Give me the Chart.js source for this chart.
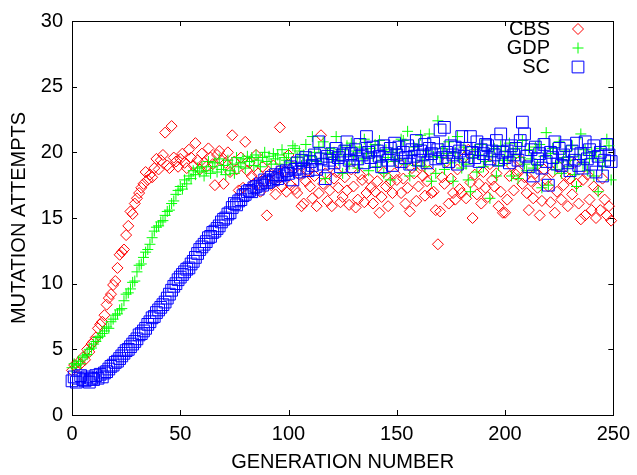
<!DOCTYPE html>
<html>
<head>
<meta charset="utf-8">
<script src="https://cdn.jsdelivr.net/npm/chart.js@4.4.1/dist/chart.umd.min.js"></script>
<style>
  html, body { margin: 0; padding: 0; background: #fff; }
  canvas { display: block; }
</style>
</head>
<body>
<canvas id="chart" width="637" height="475"></canvas>
<script>
// values, one per generation (0..249)
const CBS = [
  3.4, 3.8, 3.6, 4.0, 3.9, 4.4, 4.2, 5.0, 4.8, 5.4,
  5.6, 5.9, 6.6, 6.9, 7.1, 7.6, 8.4, 8.9, 9.2, 9.9,
  10.2, 11.2, 12.2, 12.4, 12.6, 13.7, 14.4, 15.5, 15.3, 16.1,
  16.5, 16.9, 17.3, 17.6, 18.5, 17.9, 18.3, 18.1, 18.8, 19.5,
  18.7, 19.4, 19.8, 21.5, 19.0, 18.8, 22.0, 19.6, 19.3, 18.9,
  19.5, 19.9, 19.2, 18.8, 20.2, 19.6, 19.0, 20.7, 19.4, 18.7,
  19.9, 19.2, 18.9, 20.3, 19.6, 19.1, 17.5, 19.8, 20.1, 19.4,
  17.6, 19.2, 20.0, 18.5, 21.3, 19.3, 18.7, 17.1, 19.6, 17.3,
  20.8, 18.6, 19.2, 18.2, 17.6, 19.8, 18.4, 17.0, 18.9, 17.8,
  15.2, 18.3, 17.5, 19.0, 16.8, 18.1, 21.9, 17.4, 18.6, 17.0,
  19.8, 17.5, 18.9, 17.2, 16.9, 18.3, 15.9, 16.1, 17.8, 18.6,
  17.4, 16.5, 18.2, 15.9, 16.9, 21.3, 17.6, 18.4, 16.3, 17.1,
  15.9, 18.0, 18.5, 17.3, 16.2, 16.6, 18.1, 17.1, 16.0, 18.7,
  17.4, 15.8, 16.4, 18.3, 17.9, 16.2, 16.9, 18.0, 17.3, 16.1,
  17.0, 17.8, 15.4, 16.6, 18.5, 17.4, 15.9, 17.7, 16.9, 18.4,
  17.9, 19.2, 16.9, 18.0, 16.1, 17.3, 15.5, 18.8, 18.4, 16.3,
  17.4, 19.0, 18.2, 16.7, 17.8, 18.6, 16.9, 17.0, 15.6, 13.0,
  15.5, 18.1, 17.6, 19.3, 16.1, 18.0, 16.9, 16.4, 18.7, 17.2,
  16.9, 19.6, 16.5, 20.2, 17.7, 15.0, 18.3, 16.8, 17.6, 16.1,
  18.5, 17.3, 16.6, 19.1, 17.9, 17.4, 18.4, 15.9, 17.0, 15.4,
  15.4, 16.4, 18.2, 19.0, 17.1, 18.3, 18.6, 19.4, 17.6, 18.1,
  16.9, 15.6, 17.8, 16.5, 18.4, 17.3, 15.2, 16.3, 18.7, 17.9,
  17.4, 16.2, 18.5, 15.4, 17.0, 18.9, 16.4, 17.5, 18.2, 15.9,
  18.0, 16.8, 19.2, 17.6, 16.1, 14.9, 17.9, 15.2, 18.3, 16.4,
  15.6, 17.4, 15.0, 17.1, 15.6, 18.0, 16.4, 15.2, 15.9, 14.8
];
const GDP = [
  3.6, 3.9, 3.8, 4.1, 3.9, 4.4, 4.5, 4.6, 5.0, 5.1,
  5.4, 5.6, 5.9, 6.0, 6.2, 6.4, 6.7, 6.6, 7.1, 7.3,
  7.6, 7.7, 8.0, 8.1, 8.7, 9.2, 9.3, 9.6, 10.1, 10.2,
  10.9, 11.4, 11.5, 12.0, 12.4, 12.6, 13.0, 13.5, 14.0, 14.3,
  14.4, 14.7, 14.8, 15.2, 15.5, 15.6, 16.1, 16.3, 16.8, 17.1,
  17.4, 17.2, 17.9, 17.6, 18.2, 18.0, 18.6, 18.3, 18.8, 18.5,
  18.9, 18.2, 18.6, 19.3, 18.4, 18.9, 19.2, 18.5, 19.5, 18.7,
  19.0, 18.3, 19.4, 18.6, 19.1, 18.4, 19.6, 18.9, 19.2, 19.5,
  18.8, 19.7, 19.3, 19.6, 19.0, 19.8, 19.4, 18.9, 19.6, 20.0,
  19.3, 19.7, 19.1, 19.9, 19.5, 19.8, 19.1, 20.2, 19.6, 19.4,
  19.9, 19.2, 20.5, 20.3, 19.6, 20.1, 19.0, 19.8, 20.6, 19.4,
  19.7, 21.2, 20.0, 19.3, 20.4, 19.5, 20.8, 18.0, 19.9, 20.3,
  19.6, 20.0, 21.2, 19.4, 20.2, 18.4, 19.8, 20.5, 19.1, 20.7,
  19.7, 20.1, 18.8, 20.4, 19.5, 21.0, 19.9, 18.6, 20.3, 19.7,
  20.6, 18.9, 20.9, 19.4, 18.4, 20.2, 19.6, 17.9, 20.0, 19.3,
  20.2, 19.5, 21.0, 20.9, 19.1, 21.6, 18.2, 19.8, 20.4, 19.0,
  20.6, 21.3, 19.4, 18.9, 20.1, 21.4, 17.8, 19.7, 18.4, 22.4,
  19.6, 20.3, 18.7, 19.9, 20.8, 19.2, 17.8, 20.0, 21.2, 19.5,
  18.8, 20.4, 19.1, 17.9, 17.0, 19.6, 20.2, 18.5, 19.8, 20.6,
  18.9, 19.3, 20.1, 16.5, 19.7, 20.3, 18.2, 19.0, 20.5, 19.4,
  20.1, 19.4, 20.7, 18.2, 19.8, 20.3, 18.0, 19.6, 20.9, 19.1,
  18.6, 20.2, 19.5, 18.8, 20.4, 19.0, 20.6, 17.3, 19.7, 21.5,
  17.5, 19.9, 20.3, 18.7, 19.2, 20.8, 18.4, 19.6, 20.1, 18.9,
  19.4, 20.5, 18.3, 17.4, 19.8, 21.4, 19.1, 20.2, 18.6, 19.5,
  20.0, 18.2, 19.7, 17.0, 20.3, 18.9, 19.4, 21.0, 20.5, 17.9
];
const SC = [
  2.6, 2.9, 2.5, 2.8, 3.0, 2.7, 2.6, 2.9, 2.5, 2.8,
  2.7, 3.0, 2.8, 3.1, 2.9, 3.2, 3.3, 3.5, 3.7, 3.8,
  4.0, 4.1, 4.3, 4.5, 4.7, 4.9, 5.0, 5.2, 5.4, 5.6,
  5.8, 6.1, 6.2, 6.4, 6.6, 6.9, 7.1, 7.4, 7.5, 7.8,
  8.0, 8.2, 8.4, 8.6, 8.9, 9.2, 9.5, 9.8, 10.0, 10.3,
  10.5, 10.7, 10.9, 11.1, 11.2, 11.5, 11.7, 12.0, 12.3, 12.6,
  12.8, 13.0, 13.2, 13.5, 13.6, 13.9, 14.0, 14.2, 14.4, 14.7,
  14.9, 15.0, 15.3, 15.4, 15.8, 16.1, 16.0, 16.3, 16.4, 16.7,
  16.8, 17.0, 17.1, 17.0, 17.3, 17.4, 17.2, 17.6, 17.5, 17.9,
  17.7, 17.8, 18.1, 17.9, 18.3, 18.0, 18.2, 18.5, 18.3, 18.6,
  18.4, 18.9, 17.9, 18.7, 19.2, 18.5, 19.4, 18.8, 19.6, 18.6,
  19.3, 19.0, 19.8, 18.7, 20.8, 19.5, 19.1, 18.0, 19.7, 19.4,
  19.9, 19.2, 20.3, 19.6, 18.9, 19.8, 20.1, 20.8, 19.4, 19.9,
  18.9, 20.2, 19.5, 20.6, 19.8, 19.2, 21.2, 20.0, 19.6, 20.4,
  19.3, 20.1, 19.7, 18.9, 20.5, 19.9, 19.4, 20.3, 19.0, 20.7,
  19.8, 20.4, 19.3, 20.0, 19.6, 20.5, 19.1, 20.2, 19.7, 20.9,
  19.4, 20.1, 19.8, 20.6, 19.2, 20.3, 19.9, 20.7, 19.5, 20.2,
  21.7, 19.6, 21.9, 20.0, 19.3, 20.5, 19.8, 20.4, 19.1, 20.1,
  21.2, 19.7, 20.3, 19.4, 21.2, 20.0, 19.6, 20.8, 19.3, 20.2,
  19.9, 20.6, 20.5, 19.5, 20.1, 19.8, 20.9, 19.4, 21.4, 20.0,
  19.6, 20.1, 19.2, 20.5, 19.8, 20.3, 19.4, 20.9, 22.3, 21.4,
  19.7, 18.9, 20.2, 18.2, 20.4, 19.5, 19.9, 18.8, 20.6, 19.3,
  17.5, 20.0, 19.6, 20.8, 19.1, 20.3, 19.0, 19.8, 20.5, 19.2,
  18.6, 20.1, 19.4, 20.7, 19.0, 19.9, 18.8, 20.8, 19.5, 20.2,
  19.1, 20.5, 18.5, 19.7, 20.0, 18.2, 19.4, 20.6, 19.8, 19.3
];
const GENERATIONS = CBS.map((_, i) => i);
const X_TICKS = [0, 50, 100, 150, 200, 250];
const Y_TICKS = [0, 5, 10, 15, 20, 25, 30];

const FONT = "'Liberation Sans', Arial, sans-serif";
const toPoints = (vals) => vals.map((v, i) => ({ x: GENERATIONS[i], y: v }));

const SERIES = [
  { label: "CBS", data: CBS, color: "#ff0000", style: "rectRot", radius: 5.5, order: 2 },
  { label: "GDP", data: GDP, color: "#00ff00", style: "cross", radius: 5.5, order: 1 },
  { label: "SC", data: SC, color: "#0000ff", style: "rect", radius: 8.3, order: 0 },
];

// gnuplot-like box with inward ticks on all four sides
const framePlugin = {
  id: "frame",
  beforeDatasetsDraw(chart) {
    const { ctx, chartArea: a, scales } = chart;
    ctx.save();
    ctx.strokeStyle = "#000";
    ctx.lineWidth = 1;
    ctx.beginPath();
    const T = 5;
    X_TICKS.forEach((t) => {
      const x = Math.round(scales.x.getPixelForValue(t)) + 0.5;
      ctx.moveTo(x, a.bottom); ctx.lineTo(x, a.bottom - T);
      ctx.moveTo(x, a.top); ctx.lineTo(x, a.top + T);
    });
    Y_TICKS.forEach((t) => {
      const y = Math.round(scales.y.getPixelForValue(t)) + 0.5;
      ctx.moveTo(a.left, y); ctx.lineTo(a.left + T, y);
      ctx.moveTo(a.right, y); ctx.lineTo(a.right - T, y);
    });
    ctx.stroke();
    ctx.strokeRect(Math.round(a.left) + 0.5, Math.round(a.top) + 0.5,
      Math.round(a.right - a.left), Math.round(a.bottom - a.top));
    ctx.restore();
  },
};

// key in the top right corner: text first, then the marker
const keyPlugin = {
  id: "key",
  afterDraw(chart) {
    const { ctx } = chart;
    ctx.save();
    ctx.font = "20px " + FONT;
    ctx.textAlign = "right";
    ctx.textBaseline = "middle";
    SERIES.forEach((s, i) => {
      const y = 29 + i * 19;
      ctx.fillStyle = "#000";
      ctx.fillText(s.label, 550, y);
      ctx.strokeStyle = s.color;
      ctx.fillStyle = "rgba(0,0,0,0)";
      ctx.lineWidth = 1;
      Chart.helpers.drawPoint(ctx, { pointStyle: s.style, radius: s.radius, rotation: 0, borderWidth: 1 }, 578, y);
    });
    ctx.restore();
  },
};

new Chart(document.getElementById("chart"), {
  type: "scatter",
  data: {
    datasets: SERIES.map((s) => ({
      label: s.label,
      data: toPoints(s.data),
      order: s.order,
      pointStyle: s.style,
      pointRadius: s.radius,
      borderColor: s.color,
      backgroundColor: "rgba(0,0,0,0)",
      borderWidth: 1,
      clip: false,
    })),
  },
  options: {
    responsive: false,
    animation: false,
    layout: { padding: { top: 15, right: 23, left: 0, bottom: 0 } },
    plugins: { legend: { display: false }, tooltip: { enabled: false } },
    scales: {
      x: {
        type: "linear",
        min: 0,
        max: 250,
        afterBuildTicks: (s) => { s.ticks = X_TICKS.map((v) => ({ value: v })); },
        afterFit: (s) => { s.height = 60; },
        grid: { display: false, drawTicks: false },
        border: { display: false },
        ticks: { color: "#000", font: { size: 20, family: FONT }, padding: 7, maxRotation: 0 },
        title: { display: true, text: "GENERATION NUMBER", color: "#000", font: { size: 20, family: FONT }, padding: { top: 0, bottom: 1 } },
      },
      y: {
        min: 0,
        max: 30,
        afterBuildTicks: (s) => { s.ticks = Y_TICKS.map((v) => ({ value: v })); },
        afterFit: (s) => { s.width = 72; },
        grid: { display: false, drawTicks: false },
        border: { display: false },
        ticks: { color: "#000", font: { size: 20, family: FONT }, padding: 9 },
        title: { display: true, text: "MUTATION ATTEMPTS", color: "#000", font: { size: 20, family: FONT }, padding: { top: 7, bottom: 0 } },
      },
    },
  },
  plugins: [framePlugin, keyPlugin],
});
</script>
</body>
</html>
